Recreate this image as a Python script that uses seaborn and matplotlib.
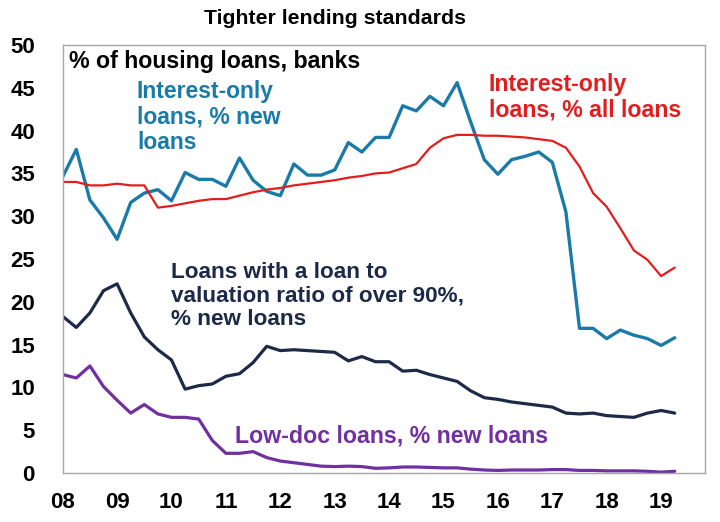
import numpy as np
import pandas as pd
import matplotlib
matplotlib.use("Agg")
import matplotlib.pyplot as plt
import seaborn as sns

# ---- data (quarterly, 2008Q1 .. 2019Q2) ----
quarters = pd.period_range("2008Q1", "2019Q2", freq="Q")
io_new = [34.6, 37.8, 31.9, 29.8, 27.3, 31.6, 32.7, 33.1,
          31.8, 35.1, 34.3, 34.3, 33.5, 36.8, 34.2, 32.9,
          32.4, 36.1, 34.8, 34.8, 35.4, 38.6, 37.5, 39.2,
          39.2, 42.9, 42.3, 44.0, 42.9, 45.6, 41.0, 36.6,
          34.9, 36.6, 37.0, 37.5, 36.3, 30.5, 16.9, 16.9,
          15.7, 16.7, 16.1, 15.7, 14.9, 15.8]
io_all = [34.0, 34.0, 33.6, 33.6, 33.8, 33.6, 33.6, 31.0,
          31.2, 31.5, 31.8, 32.0, 32.0, 32.4, 32.8, 33.1,
          33.3, 33.6, 33.8, 34.0, 34.2, 34.5, 34.7, 35.0,
          35.1, 35.6, 36.1, 38.0, 39.1, 39.5, 39.5, 39.4,
          39.4, 39.3, 39.2, 39.0, 38.8, 38.0, 35.8, 32.7,
          31.1, 28.6, 26.0, 24.9, 23.0, 24.0]
lvr90 = [18.3, 17.0, 18.7, 21.3, 22.1, 18.7, 15.9, 14.4,
         13.2, 9.8, 10.2, 10.4, 11.3, 11.6, 12.9, 14.8,
         14.3, 14.4, 14.3, 14.2, 14.1, 13.1, 13.6, 13.0,
         13.0, 11.9, 12.0, 11.5, 11.1, 10.7, 9.6, 8.8,
         8.6, 8.3, 8.1, 7.9, 7.7, 7.0, 6.9, 7.0,
         6.7, 6.6, 6.5, 7.0, 7.3, 7.0]
lowdoc = [11.5, 11.1, 12.5, 10.1, 8.5, 7.0, 8.0, 6.9,
          6.5, 6.5, 6.3, 3.8, 2.3, 2.3, 2.5, 1.8,
          1.4, 1.2, 1.0, 0.8, 0.75, 0.8, 0.75, 0.55,
          0.6, 0.7, 0.7, 0.65, 0.6, 0.6, 0.45, 0.35,
          0.3, 0.35, 0.35, 0.35, 0.4, 0.4, 0.3, 0.3,
          0.25, 0.25, 0.25, 0.2, 0.1, 0.2]
tick_years = list(range(2008, 2020))
tick_labels = ["08", "09", "10", "11", "12", "13", "14", "15", "16", "17", "18", "19"]
series_names = ["Interest-only, % new", "Interest-only, % all", "LVR > 90%", "Low-doc"]

# ---- build long frame ----
xpos = quarters.year + (quarters.quarter - 1) / 4.0
df = pd.DataFrame({
    "date": np.tile(xpos, 4),
    "value": io_new + io_all + lvr90 + lowdoc,
    "series": np.repeat(series_names, len(quarters)),
})

sns.set_style("white")
plt.rcParams["font.family"] = ["Liberation Sans", "DejaVu Sans"]

c_blue = "#1b7ba8"
c_red = "#e31d1d"
c_navy = "#1c2a48"
c_purple = "#7030a0"
palette = {series_names[0]: c_blue, series_names[1]: c_red,
           series_names[2]: c_navy, series_names[3]: c_purple}

fig = plt.figure(figsize=(7.2, 5.22), dpi=100)
ax = fig.add_axes([62.7 / 720, 49 / 522, (705 - 62.7) / 720, (473 - 45) / 522])

sns.lineplot(data=df, x="date", y="value", hue="series", palette=palette,
             hue_order=series_names, ax=ax, legend=False)
widths = [2.4, 1.6, 2.3, 2.3]
for line, w in zip(ax.get_lines(), widths):
    line.set_linewidth(w)

ax.set_xlim(2008, 2008 + (705 - 62.7) / 54.4)
ax.set_ylim(0, 50)
ax.set_xticks(tick_years)
ax.set_xticklabels(tick_labels)
ax.set_yticks(range(0, 51, 5))
ax.set_xlabel("")
ax.set_ylabel("")
for s in ax.spines.values():
    s.set_visible(True)
    s.set_color("#a6a6a6")
    s.set_linewidth(1.0)
ax.tick_params(axis="both", direction="out", length=7, width=1, color="#a6a6a6")
ax.tick_params(axis="y", labelsize=16, pad=13)
ax.tick_params(axis="x", labelsize=16, pad=7)
for lab in ax.get_xticklabels() + ax.get_yticklabels():
    lab.set_fontweight("bold")
    lab.set_color("black")

fig.text(335 / 720, 1 - 18 / 522, "Tighter lending standards", ha="center", va="center",
         fontsize=15.3, fontweight="bold", color="black")

# place texts in pixel coordinates of the reference (top of text box)
def put(xpix, ypix_top, s, color, size=16.5):
    ax.text((xpix - 62.7) / (705 - 62.7), 1 - (ypix_top - 45) / (473 - 45), s,
            transform=ax.transAxes, ha="left", va="top", fontsize=size,
            fontweight="bold", color=color, linespacing=1.15)

put(69, 50, "% of housing loans, banks", "black", 16.7)
put(137, 80, "Interest-only\nloans, % new\nloans", c_blue)
put(489, 73, "Interest-only\nloans, % all loans", c_red, 16.7)
put(171, 262, "Loans with a loan to\nvaluation ratio of over 90%,\n% new loans", c_navy, 16.2)
put(235, 425, "Low-doc loans, % new loans", c_purple, 16.7)

fig.savefig("out.png", dpi=100, facecolor="white")
